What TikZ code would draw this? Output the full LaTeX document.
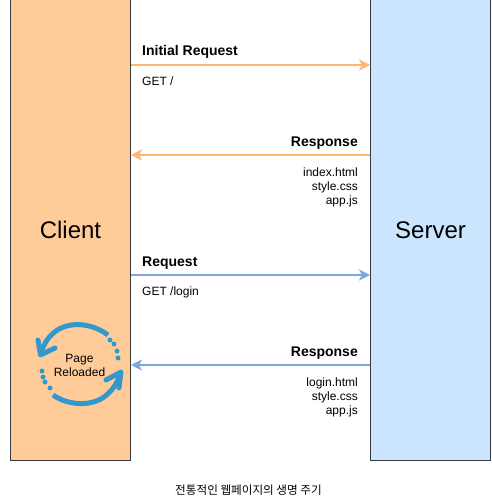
\documentclass[tikz,border=0pt]{standalone}
\usepackage{fontspec}
\setmainfont{Liberation Sans}
\newfontfamily\krfont{Noto Sans CJK KR}
\usetikzlibrary{arrows.meta}
\definecolor{clientfill}{HTML}{FFCC99}
\definecolor{serverfill}{HTML}{CCE5FF}
\definecolor{edgegray}{HTML}{36393D}
\definecolor{orangeline}{HTML}{FFB570}
\definecolor{blueline}{HTML}{7EA6E0}
\definecolor{iconblue}{HTML}{3399CC}
\tikzset{
  party/.style={draw=edgegray,line width=1pt,minimum width=120pt,minimum height=460pt,inner sep=0pt,font=\fontsize{24}{28}\selectfont},
  msg/.style={line width=2pt,-{Stealth[length=11pt,width=11pt,inset=3pt]}},
  orangemsg/.style={msg,draw=orangeline,color=orangeline},
  bluemsg/.style={msg,draw=blueline,color=blueline},
  lab/.style={inner sep=0pt,font=\fontsize{12}{14}\selectfont,text=black},
  headl/.style={lab,anchor=base west,font=\fontsize{14}{16}\selectfont\bfseries},
  headr/.style={lab,anchor=base east,font=\fontsize{14}{16}\selectfont\bfseries},
  bodyl/.style={lab,anchor=base west},
  bodyr/.style={lab,anchor=base east},
  iconarc/.style={draw=iconblue,line width=5pt},
  icondot/.style={fill=iconblue,circle,inner sep=0pt,minimum size=5pt},
}
\begin{document}
\begin{tikzpicture}[x=1pt,y=-1pt]
\useasboundingbox (0,0) rectangle (491,502);
\fill[white] (0,0) rectangle (491,502);
\node[party,fill=clientfill] (client) at (70.5,230) {Client};
\node[party,fill=serverfill] (server) at (430.5,230) {Server};

\draw[orangemsg] ([yshift=-65.5pt]client.north east) -- ([yshift=-65.5pt]server.north west);
\draw[orangemsg] ([yshift=-155.5pt]server.north west) -- ([yshift=-155.5pt]client.north east);
\draw[bluemsg] ([yshift=-275.5pt]client.north east) -- ([yshift=-275.5pt]server.north west);
\draw[bluemsg] ([yshift=-365.5pt]server.north west) -- ([yshift=-365.5pt]client.north east);

\node[headl] (t1) at (142,56) {Initial Request};
\node[bodyl] (t2) at (142,86) {GET /};
\node[headr] (t3) at (358,146.7) {Response};
\node[bodyr] (t4) at (358,177) {index.html};
\node[bodyr] (t5) at (358,191) {style.css};
\node[bodyr] (t6) at (358,205) {app.js};
\node[headl] (t7) at (142,266) {Request};
\node[bodyl] (t8) at (142,295) {GET /login};
\node[headr] (t9) at (358,356) {Response};
\node[bodyr] (t10) at (358,386.3) {login.html};
\node[bodyr] (t11) at (358,400.3) {style.css};
\node[bodyr] (t12) at (358,414.3) {app.js};

% reload icon
\draw[iconarc] (108,335) .. controls (92,323) and (70,321) .. (56,331) .. controls (49,336) and (44,343) .. (41,353);
\draw[iconarc,line cap=round,line join=round] (38,340) -- (40.5,355) -- (55,348);
\draw[iconarc] (53,395) .. controls (67,405) and (90,407) .. (104,397) .. controls (112,391) and (118,383) .. (120,373);
\draw[iconarc,line cap=round,line join=round] (106,380) -- (121,372) -- (119,388);
\foreach \i/\x/\y in {a/110/340,b/114/344,c/117/351,d/118/358,e/42/371,f/43/377,g/45/382,h/50/388}
  \node[icondot] (dot\i) at (\x,\y) {};
\node[lab,align=center,font=\fontsize{12}{14}\selectfont] (page) at (79.5,365) {Page\\Reloaded};

\node[lab,anchor=base,font=\fontsize{11.6}{13}\krfont] (caption) at (248.5,494) {전통적인 웹페이지의 생명 주기};
\end{tikzpicture}
\end{document}
